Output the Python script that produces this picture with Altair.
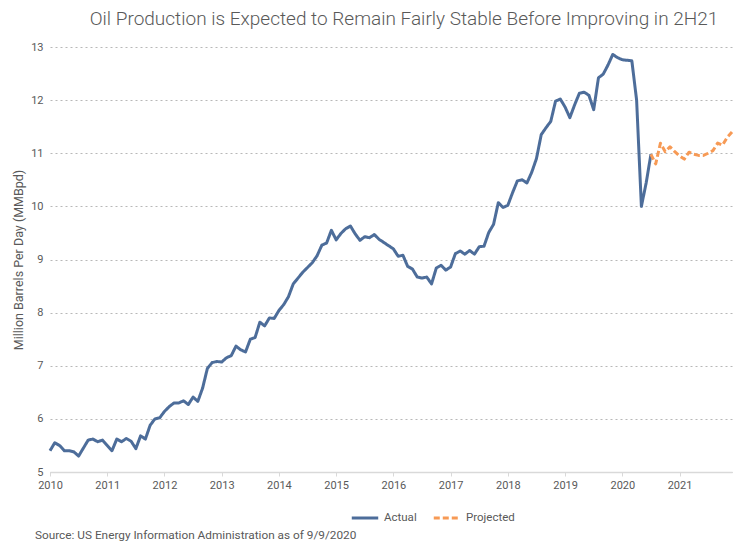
import altair as alt
import pandas as pd

# Monthly US crude oil production, million barrels per day
actual_2010 = [5.40, 5.55, 5.50, 5.40, 5.40, 5.38, 5.30, 5.45, 5.60, 5.62, 5.57, 5.60]
actual_2011 = [5.50, 5.40, 5.62, 5.57, 5.63, 5.58, 5.44, 5.68, 5.62, 5.88, 6.00, 6.02]
actual_2012 = [6.14, 6.23, 6.30, 6.30, 6.34, 6.27, 6.41, 6.33, 6.58, 6.95, 7.06, 7.08]
actual_2013 = [7.07, 7.15, 7.19, 7.37, 7.30, 7.26, 7.50, 7.53, 7.82, 7.75, 7.90, 7.89]
actual_2014 = [8.04, 8.15, 8.30, 8.54, 8.65, 8.76, 8.85, 8.94, 9.07, 9.27, 9.31, 9.55]
actual_2015 = [9.37, 9.49, 9.58, 9.63, 9.48, 9.36, 9.43, 9.41, 9.47, 9.38, 9.32, 9.26]
actual_2016 = [9.20, 9.06, 9.08, 8.87, 8.82, 8.67, 8.65, 8.67, 8.54, 8.84, 8.89, 8.80]
actual_2017 = [8.86, 9.11, 9.16, 9.10, 9.17, 9.10, 9.24, 9.25, 9.51, 9.66, 10.07, 9.98]
actual_2018 = [10.02, 10.26, 10.48, 10.50, 10.44, 10.64, 10.90, 11.35, 11.48, 11.60, 11.98, 12.02]
actual_2019 = [11.87, 11.67, 11.91, 12.13, 12.15, 12.09, 11.82, 12.42, 12.49, 12.66, 12.86, 12.80]
actual_2020 = [12.76, 12.75, 12.74, 12.00, 10.00, 10.44, 10.98]

# Projection from Jul 2020 through Dec 2021
projected_2020 = [10.98, 10.80, 11.19, 11.03, 11.12, 11.03]           # Jul-Dec 2020
projected_2021 = [10.95, 10.89, 11.02, 10.98, 10.96, 10.96,
                  11.00, 11.05, 11.19, 11.15, 11.30, 11.40]           # Jan-Dec 2021

year_ticks = list(range(2010, 2022))
y_ticks = list(range(5, 14))
series_names = ["Actual", "Projected"]
series_colors = ["#4D6D9A", "#F79A55"]

title_text = "Oil Production is Expected to Remain Fairly Stable Before Improving in 2H21"
y_title = "Million Barrels Per Day (MMBpd)"
source_text = "Source: US Energy Information Administration as of 9/9/2020"

rows = []
actual_years = [actual_2010, actual_2011, actual_2012, actual_2013, actual_2014, actual_2015,
                actual_2016, actual_2017, actual_2018, actual_2019, actual_2020]
for i, vals in enumerate(actual_years):
    yr = 2010 + i
    for m, v in enumerate(vals):
        rows.append({"x": yr + m / 12, "value": v, "series": "Actual"})
for m, v in enumerate(projected_2020):
    rows.append({"x": 2020 + (6 + m) / 12, "value": v, "series": "Projected"})
for m, v in enumerate(projected_2021):
    rows.append({"x": 2021 + m / 12, "value": v, "series": "Projected"})
df = pd.DataFrame(rows)

FONT = "Roboto"
GREY = "#595959"
W, H = 682, 425

lines = alt.Chart(df).mark_line(strokeWidth=3, strokeJoin="round").encode(
    x=alt.X("x:Q",
            scale=alt.Scale(domain=[2010, 2021 + 11 / 12], nice=False, zero=False),
            axis=alt.Axis(values=year_ticks, format="d", grid=False,
                          domainColor="#d9d9d9", domainWidth=1.5,
                          tickColor="#d9d9d9", tickSize=4, tickWidth=1,
                          labelPadding=3, labelColor=GREY, labelFontSize=11,
                          labelFont=FONT, labelFlush=False, labelOverlap=False,
                          title=None)),
    y=alt.Y("value:Q",
            scale=alt.Scale(domain=[5, 13], nice=False, zero=False),
            axis=alt.Axis(values=y_ticks, grid=True, gridDash=[2, 3], gridColor="#b8b8b8",
                          gridWidth=1, domain=False, ticks=False, labelPadding=7,
                          labelColor=GREY, labelFontSize=11, labelFont=FONT,
                          title=y_title, titleFont=FONT, titleFontSize=12.5,
                          titleFontWeight="normal", titleColor=GREY,
                          titleX=-32, titleBaseline="middle")),
    color=alt.Color("series:N",
                    scale=alt.Scale(domain=series_names, range=series_colors),
                    legend=alt.Legend(title=None, orient="none", direction="horizontal",
                                      legendX=300, legendY=456,
                                      symbolType="stroke", symbolSize=700,
                                      symbolStrokeWidth=3, labelFont=FONT,
                                      labelFontSize=11.5, labelColor=GREY,
                                      columnPadding=10, labelOffset=4)),
    strokeDash=alt.StrokeDash("series:N",
                              scale=alt.Scale(domain=series_names, range=[[1, 0], [6, 3]]),
                              legend=None),
    order="x:Q",
)

source = alt.Chart(pd.DataFrame({"t": [source_text]})).mark_text(
    align="left", baseline="middle", font=FONT, fontSize=11.8, color=GREY
).encode(x=alt.value(-15), y=alt.value(488), text="t:N")

chart = alt.layer(lines, source).properties(
    width=W, height=H,
    title=alt.TitleParams(title_text, font=FONT, fontSize=19, fontWeight=300,
                          color=GREY, anchor="middle", dx=13, offset=12),
    autosize=alt.AutoSizeParams(type="none"),
    padding={"left": 42, "top": 39, "right": 10, "bottom": 75},
).configure_view(stroke=None)

chart.save("out.html", embed_options={"renderer": "svg", "actions": False})
